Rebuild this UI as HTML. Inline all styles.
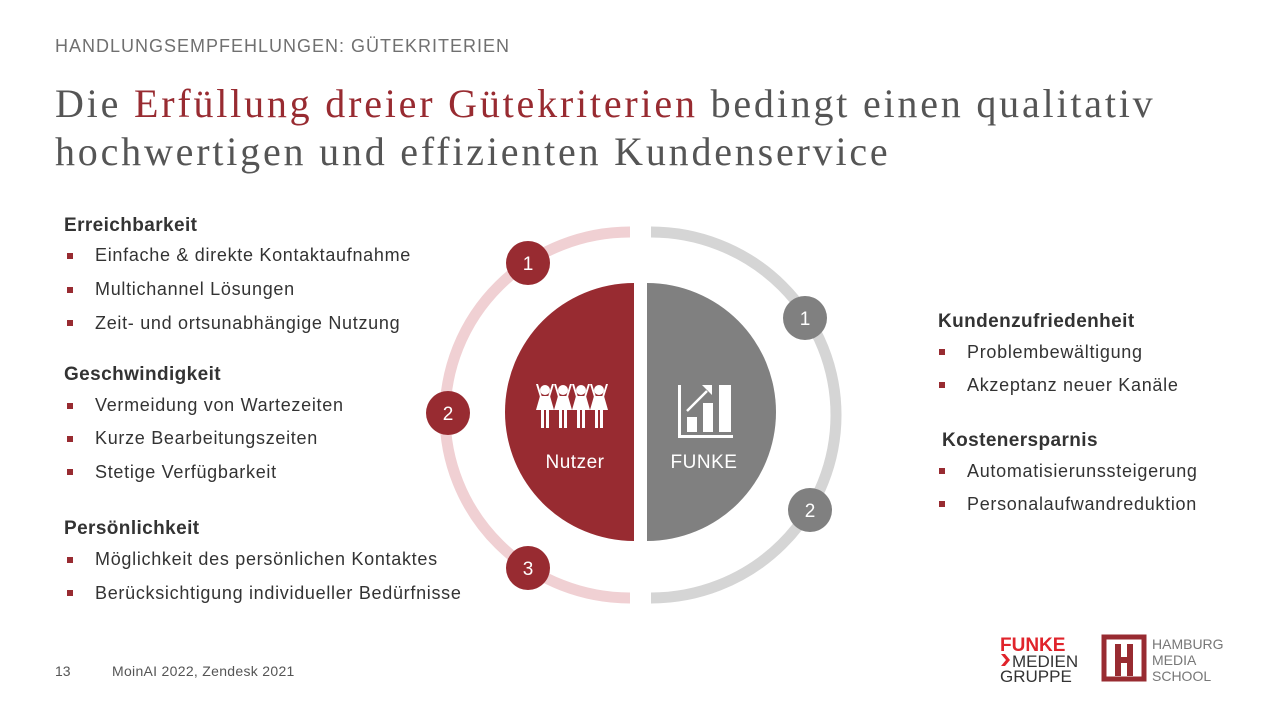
<!DOCTYPE html>
<html><head><meta charset="utf-8"><style>
body{margin:0;width:1280px;height:719px;background:#fff;position:relative;overflow:hidden;font-family:"Liberation Sans",sans-serif;color:#404040}
.a{position:absolute;white-space:nowrap}
.hd{font-size:18px;color:#707070;letter-spacing:1px}
.t{font-family:"Liberation Serif",serif;font-size:40px;color:#555;line-height:48px;letter-spacing:2.8px}
.h{font-weight:bold;font-size:19px;color:#333;letter-spacing:.4px}
.i{font-size:18px;color:#333;letter-spacing:.7px}
.b{position:absolute;width:6px;height:6px;background:#982B31}
</style></head><body>
<div class="a hd" style="left:55px;top:36px">HANDLUNGSEMPFEHLUNGEN: GÜTEKRITERIEN</div>
<div class="a t" style="left:55px;top:80px">Die <span style="color:#982B31">Erfüllung dreier Gütekriterien</span> bedingt einen qualitativ<br>hochwertigen und effizienten Kundenservice</div>

<div class="a h" style="left:64px;top:215px">Erreichbarkeit</div>
<div class="b" style="left:67px;top:253px"></div><div class="a i" style="left:95px;top:245px">Einfache &amp; direkte Kontaktaufnahme</div>
<div class="b" style="left:67px;top:287px"></div><div class="a i" style="left:95px;top:279px">Multichannel Lösungen</div>
<div class="b" style="left:67px;top:320px"></div><div class="a i" style="left:95px;top:313px">Zeit- und ortsunabhängige Nutzung</div>
<div class="a h" style="left:64px;top:364px">Geschwindigkeit</div>
<div class="b" style="left:67px;top:403px"></div><div class="a i" style="left:95px;top:395px">Vermeidung von Wartezeiten</div>
<div class="b" style="left:67px;top:436px"></div><div class="a i" style="left:95px;top:428px">Kurze Bearbeitungszeiten</div>
<div class="b" style="left:67px;top:469px"></div><div class="a i" style="left:95px;top:462px">Stetige Verfügbarkeit</div>
<div class="a h" style="left:64px;top:518px">Persönlichkeit</div>
<div class="b" style="left:67px;top:557px"></div><div class="a i" style="left:95px;top:549px">Möglichkeit des persönlichen Kontaktes</div>
<div class="b" style="left:67px;top:590px"></div><div class="a i" style="left:95px;top:583px">Berücksichtigung individueller Bedürfnisse</div>

<div class="a h" style="left:938px;top:311px">Kundenzufriedenheit</div>
<div class="b" style="left:939px;top:349px"></div><div class="a i" style="left:967px;top:342px">Problembewältigung</div>
<div class="b" style="left:939px;top:382px"></div><div class="a i" style="left:967px;top:375px">Akzeptanz neuer Kanäle</div>
<div class="a h" style="left:942px;top:430px">Kostenersparnis</div>
<div class="b" style="left:939px;top:468px"></div><div class="a i" style="left:967px;top:461px">Automatisierunssteigerung</div>
<div class="b" style="left:939px;top:501px"></div><div class="a i" style="left:967px;top:494px">Personalaufwandreduktion</div>

<svg class="a" style="left:0;top:0" width="1280" height="719">
<path d="M630 232 A 185 183 0 0 0 630 598" fill="none" stroke="#F0D0D3" stroke-width="11"/>
<path d="M651 232 A 185 183 0 0 1 651 598" fill="none" stroke="#D5D5D5" stroke-width="11"/>
<path d="M634 283 A 129 129 0 0 0 634 541 Z" fill="#982B31"/>
<path d="M647 283 A 129 129 0 0 1 647 541 Z" fill="#808080"/>
<g fill="#982B31"><circle cx="528" cy="263" r="22"/><circle cx="448" cy="413" r="22"/><circle cx="528" cy="568" r="22"/></g>
<g fill="#808080"><circle cx="805" cy="318" r="22"/><circle cx="810" cy="510" r="22"/></g>
<g fill="#fff" font-family="Liberation Sans,sans-serif" font-size="19" text-anchor="middle">
<text x="528" y="270">1</text><text x="448" y="420">2</text><text x="528" y="575">3</text>
<text x="805" y="325">1</text><text x="810" y="517">2</text>
<text x="575" y="468" font-size="19" letter-spacing="0.5">Nutzer</text><text x="704" y="468" font-size="19" letter-spacing="0.5">FUNKE</text></g>
<g fill="#fff">
<g id="p"><circle cx="545" cy="390" r="5"/><path d="M540 396h10l4 14h-5v18h-3v-18h-2v18h-3v-18h-5z"/><path d="M536 384l4 13h2l-4-13zM554 384l-4 13h-2l4-13z"/></g>
<use href="#p" x="18"/><use href="#p" x="36"/><use href="#p" x="54"/>
<path d="M678 385h3v50h52v3h-55z"/><rect x="687" y="417" width="10" height="15"/><rect x="703" y="403" width="10" height="29"/><rect x="719" y="385" width="12" height="47"/>
<path d="M687 411l20-20" stroke="#fff" stroke-width="2.5"/><path d="M702 385h10v10z"/>
</g>
<g>
<text x="1000" y="651" font-family="Liberation Sans,sans-serif" font-weight="bold" font-size="19" fill="#E0242B">FUNKE</text>
<text x="1012" y="667" font-family="Liberation Sans,sans-serif" font-size="17" fill="#333">MEDIEN</text>
<text x="1000" y="682" font-family="Liberation Sans,sans-serif" font-size="17" fill="#333">GRUPPE</text>
<path d="M1001 654l5 6-5 6h4l5-6-5-6z" fill="#E0242B"/>
<rect x="1104" y="637" width="40" height="42" fill="none" stroke="#982B31" stroke-width="5"/>
<path d="M1115 644h6v13h6v-13h6v32h-6v-13h-6v13h-6z" fill="#982B31"/>
<g font-family="Liberation Sans,sans-serif" font-size="14" fill="#777"><text x="1152" y="649">HAMBURG</text><text x="1152" y="665">MEDIA</text><text x="1152" y="681">SCHOOL</text></g>
</g>
</svg>
<div class="a" style="left:55px;top:663px;font-size:14px;color:#555">13</div>
<div class="a" style="left:112px;top:663px;font-size:14px;color:#555;letter-spacing:.3px">MoinAI 2022, Zendesk 2021</div>
</body></html>
